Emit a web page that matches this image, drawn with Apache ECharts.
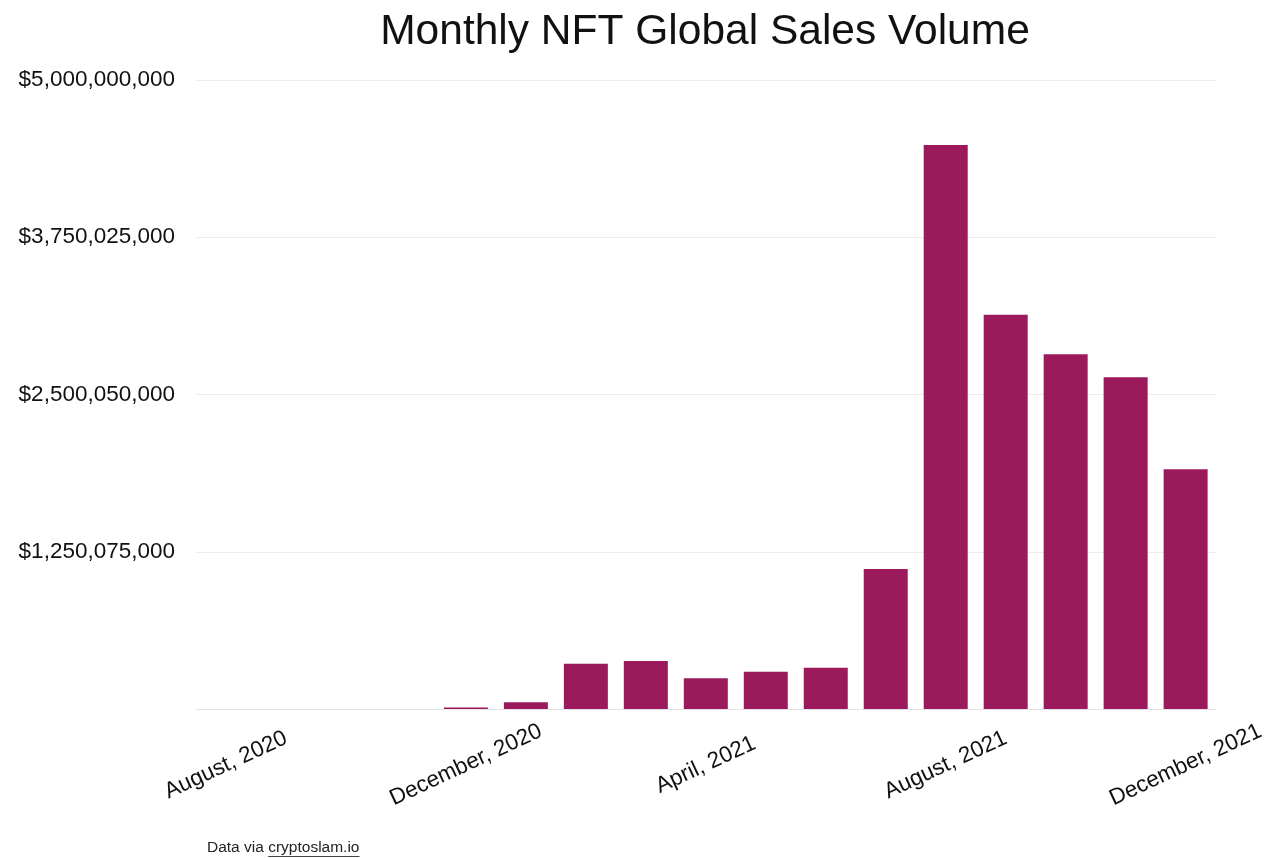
<!DOCTYPE html>
<html>
<head>
<meta charset="utf-8">
<script src="https://cdn.jsdelivr.net/npm/echarts@6/dist/echarts.min.js"></script>
<style>
  html, body { margin: 0; padding: 0; background: #ffffff; }
  #chart { width: 1268px; height: 858px; }
</style>
</head>
<body>
<div id="chart"></div>
<script>
// Month labels, August 2020 through December 2021
const months = [
  'August, 2020', 'September, 2020', 'October, 2020', 'November, 2020',
  'December, 2020', 'January, 2021', 'February, 2021', 'March, 2021',
  'April, 2021', 'May, 2021', 'June, 2021', 'July, 2021',
  'August, 2021', 'September, 2021', 'October, 2021', 'November, 2021',
  'December, 2021'
];

// Monthly NFT sales volume in USD
const salesVolume = [
  0, 0, 0, 0,
  13000000, 53000000, 360000000, 382000000,
  244000000, 297000000, 328000000, 1113000000,
  4483000000, 3134000000, 2820000000, 2637000000,
  1905000000
];

// Value axis range and step
const yMin = 100000;
const yMax = 5000000000;
const yStep = 1249975000;

const FONT = '"Liberation Sans", Arial, Helvetica, sans-serif';
const barColor = '#9b1a5b';

// Source note, with the site name underlined
const notePrefix = 'Data via ';
const noteLink = 'cryptoslam.io';
const noteFont = '15.5px ' + FONT;
const measureCtx = document.createElement('canvas').getContext('2d');
measureCtx.font = noteFont;
const noteX = 207;
const linkX = noteX + measureCtx.measureText(notePrefix).width;
const linkW = measureCtx.measureText(noteLink).width;

const chart = echarts.init(document.getElementById('chart'), null, { renderer: 'canvas' });

chart.setOption({
  animation: false,
  backgroundColor: '#ffffff',
  title: {
    text: 'Monthly NFT Global Sales Volume',
    left: 700,
    top: 6,
    textAlign: 'center',
    textStyle: {
      fontFamily: FONT,
      fontSize: 42.5,
      fontWeight: 'normal',
      color: '#111111'
    }
  },
  grid: {
    left: 196,
    right: 52,
    top: 80,
    bottom: 149,
    containLabel: false
  },
  xAxis: {
    type: 'category',
    data: months,
    axisLine: { show: true, lineStyle: { color: '#e4e4e4', width: 1 } },
    axisTick: { show: false },
    axisLabel: {
      interval: 3,
      rotate: 25,
      align: 'center',
      verticalAlign: 'middle',
      margin: 56,
      fontFamily: FONT,
      fontSize: 22.5,
      color: '#111111'
    }
  },
  yAxis: {
    type: 'value',
    min: yMin,
    max: yMax,
    interval: yStep,
    axisLine: { show: false },
    axisTick: { show: false },
    splitLine: { show: true, lineStyle: { color: '#ececec', width: 1 } },
    axisLabel: {
      showMinLabel: false,
      margin: 21,
      fontFamily: FONT,
      fontSize: 22.5,
      color: '#111111',
      formatter: v => '$' + Math.round(v).toLocaleString('en-US')
    }
  },
  series: [{
    type: 'bar',
    data: salesVolume,
    barWidth: 44,
    clip: true,
    itemStyle: { color: barColor }
  }],
  graphic: [
    {
      type: 'text',
      left: noteX,
      top: 840,
      style: {
        text: notePrefix + noteLink,
        font: noteFont,
        fill: '#222222'
      }
    },
    {
      type: 'line',
      shape: { x1: linkX, y1: 856.5, x2: linkX + linkW, y2: 856.5 },
      style: { stroke: '#444444', lineWidth: 1 }
    }
  ]
});
</script>
</body>
</html>
